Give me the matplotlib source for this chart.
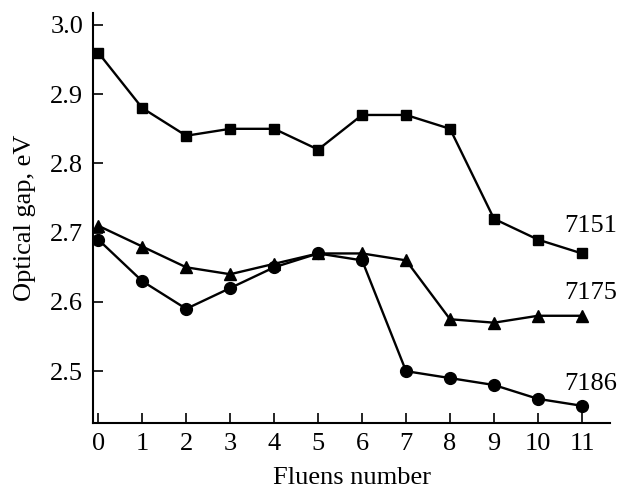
import numpy as np
import matplotlib.pyplot as plt

plt.rcParams['font.family'] = 'Liberation Serif'

# Data
fluens = np.arange(12)
gap_7151 = [2.96, 2.88, 2.84, 2.85, 2.85, 2.82, 2.87, 2.87, 2.85, 2.72, 2.69, 2.67]
gap_7175 = [2.71, 2.68, 2.65, 2.64, 2.655, 2.67, 2.67, 2.66, 2.575, 2.57, 2.58, 2.58]
gap_7186 = [2.69, 2.63, 2.59, 2.62, 2.65, 2.67, 2.66, 2.50, 2.49, 2.48, 2.46, 2.45]
labels = ['7151', '7175', '7186']

fig = plt.figure(figsize=(6.2, 4.88), dpi=100)
ax = fig.add_axes([0.15, 0.133, 0.834, 0.84])

ax.plot(fluens, gap_7151, 'k-', marker='s', ms=7.5, lw=1.7)
ax.plot(fluens, gap_7175, 'k-', marker='^', ms=9, lw=1.7)
ax.plot(fluens, gap_7186, 'k-', marker='o', ms=8.5, lw=1.7)

# Series labels at the right end
ax.text(11.8, 2.71, labels[0], fontsize=19, ha='right', va='center')
ax.text(11.8, 2.613, labels[1], fontsize=19, ha='right', va='center')
ax.text(11.8, 2.481, labels[2], fontsize=19, ha='right', va='center')

ax.set_xlim(-0.12, 11.64)
ax.set_ylim(2.425, 3.017)
ax.set_xticks(fluens)
ax.set_yticks([2.5, 2.6, 2.7, 2.8, 2.9, 3.0])
ax.set_yticklabels(['2.5', '2.6', '2.7', '2.8', '2.9', '3.0'])
ax.tick_params(direction='in', length=7, width=1.2, labelsize=19, pad=7)
ax.spines['top'].set_visible(False)
ax.spines['right'].set_visible(False)
for s in ['left', 'bottom']:
    ax.spines[s].set_linewidth(1.5)

ax.set_xlabel('Fluens number', fontsize=19, labelpad=9)
ax.set_ylabel('Optical gap, eV', fontsize=19, labelpad=10)

fig.savefig('out.png', dpi=100)
